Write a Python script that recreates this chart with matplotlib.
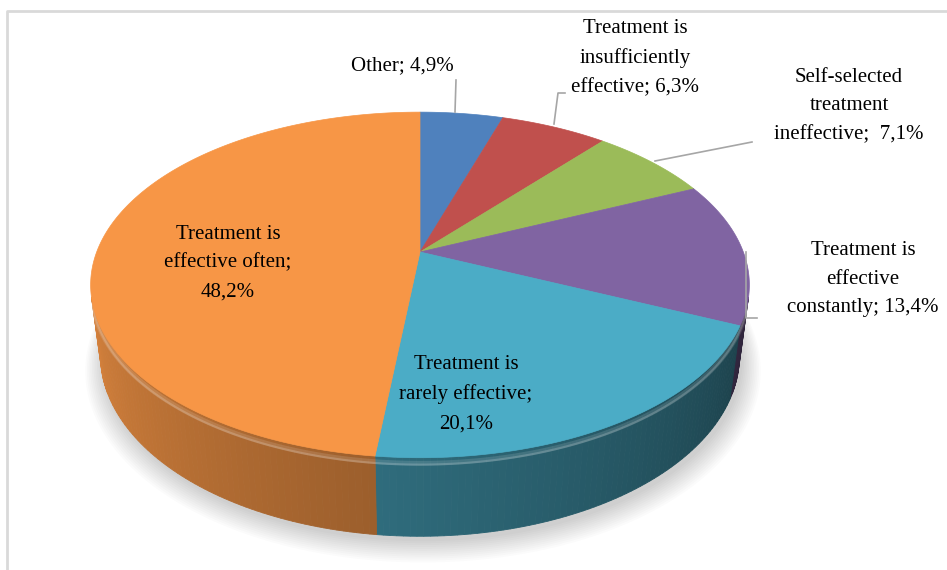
import numpy as np
import matplotlib.pyplot as plt
from matplotlib.patches import Polygon
from matplotlib.colors import to_rgb

# ---------------------------------------------
# Data
# ---------------------------------------------
categories = ['Other',
              'Treatment is\ninsufficiently\neffective',
              'Self-selected\ntreatment\nineffective',
              'Treatment is\neffective\nconstantly',
              'Treatment is\nrarely effective',
              'Treatment is\neffective often']
shares = [4.9, 6.3, 7.1, 13.4, 20.1, 48.2]
separators = ['; ', '; ', ';  ', '; ', ';\n', ';\n']
colors = ['#4F81BD', '#C0504D', '#9BBB59', '#8064A2', '#4BACC6', '#F79646']

# label anchor (pixel coords, y down) and leader lines
label_pos = [(402, 66), (635, 58), (849, 106), (863, 279), (466, 394), (228, 263)]
leaders = [
    [(456, 80), (455, 112)],
    [(565, 93), (558, 93), (554, 124)],
    [(752, 142), (655, 161)],
    [(757, 318), (746, 318), (746, 252)],
    None,
    None,
]

W, H = 947, 570

# ---------------------------------------------
# Perspective projection of the 3D disc
# ---------------------------------------------
TILT = np.radians(31)
DIST = 4.5
FOCAL = 1455
CX, CY = 420, 252
DEPTH = 0.26


def project(theta, r=1.0, z=0.0):
    # theta measured clockwise from the far side of the disc
    x = r * np.sin(theta)
    y = r * np.cos(theta)
    v = y * np.sin(TILT) + z * np.cos(TILT)
    d = y * np.cos(TILT) - z * np.sin(TILT)
    s = FOCAL / (DIST + d)
    return CX + x * s, CY - v * s


def shade(rgb, f):
    return tuple(min(1, max(0, c * f)) for c in rgb)


fig = plt.figure(figsize=(W / 100, H / 100), dpi=100)
ax = fig.add_axes([0, 0, 1, 1])
ax.set_xlim(0, W)
ax.set_ylim(H, 0)
ax.axis('off')

# chart frame
ax.plot([7, 7, W], [H, 11, 11], color='#D9D9D9', lw=2, solid_capstyle='butt', zorder=0)

fracs = np.array(shares) / sum(shares)
edges = np.concatenate([[0], np.cumsum(fracs)]) * 2 * np.pi

# soft shadow under the disc
ts = np.linspace(0, 2 * np.pi, 300)
for k in range(12):
    grow = 1.0 + 0.005 * k
    bx, by = project(ts, grow, -DEPTH)
    ax.add_patch(Polygon(np.column_stack([bx + 3, by + 5 + 0.6 * k]), closed=True,
                         facecolor='black', edgecolor='none', alpha=0.014, zorder=1))

# outer wall, only the part facing the viewer
vis_lim = np.arccos(-1 / (DIST * np.cos(TILT)))
vis_a, vis_b = vis_lim, 2 * np.pi - vis_lim
for i, col in enumerate(colors):
    a, b = max(edges[i], vis_a), min(edges[i + 1], vis_b)
    if a >= b:
        continue
    base = to_rgb(col)
    steps = np.linspace(a, b, max(2, int(np.degrees(b - a)) + 1))
    for t0, t1 in zip(steps[:-1], steps[1:]):
        tm = np.degrees(0.5 * (t0 + t1))
        f = 0.41 + (tm - 120) * 0.0033
        x0, y0 = project(t0)
        x1, y1 = project(t1)
        x2, y2 = project(t1, z=-DEPTH)
        x3, y3 = project(t0, z=-DEPTH)
        ax.add_patch(Polygon([(x0, y0), (x1, y1), (x2, y2), (x3, y3)], closed=True,
                             facecolor=shade(base, f), edgecolor=shade(base, f),
                             lw=0.6, zorder=2))

# light bevel along the front rim
for i, col in enumerate(colors):
    a, b = max(edges[i], vis_a), min(edges[i + 1], vis_b)
    if a >= b:
        continue
    tt = np.linspace(a, b, 80)
    for dz, lw, al in [(-0.018, 3.5, 0.12), (-0.022, 1.5, 0.18)]:
        rx, ry = project(tt, z=dz)
        ax.plot(rx, ry, color='white', lw=lw, alpha=al, zorder=3,
                solid_capstyle='butt')

# top face
for i, col in enumerate(colors):
    tt = np.linspace(edges[i], edges[i + 1], 200)
    px, py = project(tt)
    pts = np.column_stack([np.concatenate([[CX], px]), np.concatenate([[CY], py])])
    ax.add_patch(Polygon(pts, closed=True, facecolor=col, edgecolor=col,
                         lw=0.5, zorder=4))

# data labels
font = dict(family=['Liberation Serif', 'DejaVu Serif'], fontsize=15,
            color='black', ha='center', va='center', linespacing=1.7, zorder=6)
for name, val, sep, pos in zip(categories, shares, separators, label_pos):
    txt = f"{name}{sep}{val:.1f}%".replace('.', ',')
    ax.text(pos[0], pos[1], txt, **font)

for seg in leaders:
    if seg is None:
        continue
    xs, ys = zip(*seg)
    ax.plot(xs, ys, color='#A6A6A6', lw=1.2, zorder=5)

fig.savefig('out.png', dpi=100)
